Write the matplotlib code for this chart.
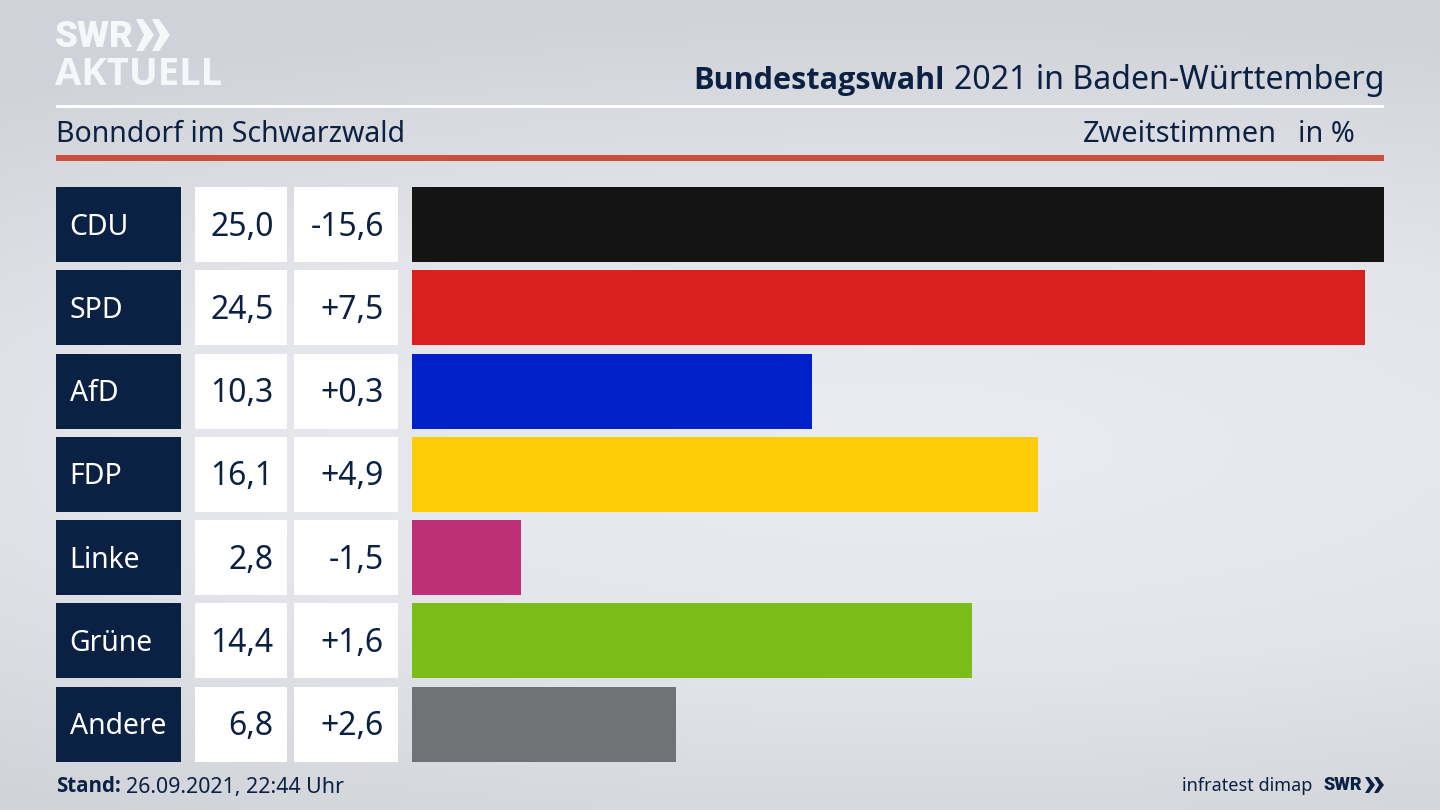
import numpy as np
import matplotlib
matplotlib.use('Agg')
import matplotlib.pyplot as plt
from matplotlib.patches import Rectangle, Polygon

plt.rcParams['font.family'] = ['Noto Sans', 'DejaVu Sans']

parties = ['CDU', 'SPD', 'AfD', 'FDP', 'Linke', 'Grüne', 'Andere']
shares = [25.0, 24.5, 10.3, 16.1, 2.8, 14.4, 6.8]
diffs = ['-15,6', '+7,5', '+0,3', '+4,9', '-1,5', '+1,6', '+2,6']
colors = ['#141414', '#da201f', '#0021c8', '#ffcc08', '#bd3075', '#7abd19', '#717274']

NAVY = '#0b2143'
LOGO = '#f6f7f8'
W, H = 1440, 810
row_top = 187.2
row_step = 83.25
row_h = 75

fig = plt.figure(figsize=(14.4, 8.1), dpi=100)

# background, light in the middle and greyer to top and bottom
bg = fig.add_axes([0, 0, 1, 1])
yy, xx = np.mgrid[0:1:200j, 0:1:200j]
dist = np.sqrt(((xx - 0.62) / 1.1) ** 2 + ((yy - 0.55) / 0.55) ** 2)
bg.imshow(np.clip(dist, 0, 1), cmap=matplotlib.colors.LinearSegmentedColormap.from_list(
    'bg', ['#ebecf1', '#e4e5ea', '#cfd2d8']), aspect='auto', extent=(0, W, H, 0), vmin=0, vmax=1)
bg.set_xlim(0, W)
bg.set_ylim(H, 0)
bg.axis('off')

# header lines
bg.add_patch(Rectangle((56, 104.5), 1328, 3, color='white', lw=0))
bg.add_patch(Rectangle((56, 155), 1328, 5.5, color='#cb4f3e', lw=0))

# logo
bg.text(55, 37, 'SWR', fontsize=26.5, fontweight='black', family='Roboto', color=LOGO, va='center', ha='left')
for x0 in (136, 152):
    bg.add_patch(Polygon([(x0, 19), (x0 + 7, 19), (x0 + 18, 35), (x0 + 7, 51), (x0, 51), (x0 + 8, 35)],
                         color=LOGO, lw=0))
bg.text(55, 75, 'AKTUELL', fontsize=27.5, fontweight='bold', family='Open Sans', color=LOGO, va='center', ha='left')

# titles
bg.text(945, 80.5, 'Bundestagswahl', fontsize=22.1, fontweight='bold', family='Open Sans', color=NAVY, ha='right', va='center')
bg.text(1384, 80.5, '2021 in Baden-Württemberg', fontsize=23.1, color=NAVY, ha='right', va='center')
bg.text(56, 134.5, 'Bonndorf im Schwarzwald', fontsize=20.5, color=NAVY, ha='left', va='center')
bg.text(1277, 134.5, 'Zweitstimmen', fontsize=20.8, color=NAVY, ha='right', va='center')
bg.text(1355, 134.5, 'in %', fontsize=20.8, color=NAVY, ha='right', va='center')

# table cells
for i, (p, s, d) in enumerate(zip(parties, shares, diffs)):
    top = row_top + i * row_step
    mid = top + row_h / 2 + 2.5
    bg.add_patch(Rectangle((56, top), 125, row_h, color=NAVY, lw=0))
    bg.add_patch(Rectangle((195, top), 92, row_h, color='white', lw=0))
    bg.add_patch(Rectangle((294, top), 103.5, row_h, color='white', lw=0))
    bg.text(69.5, mid, p, fontsize=20.4, color='white', ha='left', va='center')
    bg.text(273.5, mid, f'{s:.1f}'.replace('.', ','), fontsize=23, color=NAVY, ha='right', va='center')
    bg.text(384, mid, d, fontsize=23, color=NAVY, ha='right', va='center')

# footer
bg.text(56, 787, 'Stand:', fontsize=14.8, fontweight='bold', family='Open Sans', color=NAVY, ha='left', va='center')
bg.text(126, 787, '26.09.2021, 22:44 Uhr', fontsize=15.4, color=NAVY, ha='left', va='center')
bg.text(1312, 786, 'infratest dimap', fontsize=13, color=NAVY, ha='right', va='center')
bg.text(1323.5, 785.5, 'SWR', fontsize=13, fontweight='black', family='Roboto', color=NAVY, ha='left', va='center')
for x0 in (1365, 1374):
    bg.add_patch(Polygon([(x0, 777), (x0 + 4, 777), (x0 + 10, 785), (x0 + 4, 793), (x0, 793), (x0 + 5, 785)],
                         color=NAVY, lw=0))

# bars on their own axes, 0 to 25 percent over the bar area
bar_h = row_h / row_step
bottom_px = row_top + 6 * row_step + row_h
ax = fig.add_axes([412 / W, 1 - bottom_px / H, 972 / W, (bottom_px - row_top) / H])
ax.barh(range(len(parties)), shares, height=bar_h, color=colors, linewidth=0)
ax.set_xlim(0, 25)
ax.set_ylim(6 + bar_h / 2, -bar_h / 2)
ax.axis('off')

fig.savefig('out.png', dpi=100)
